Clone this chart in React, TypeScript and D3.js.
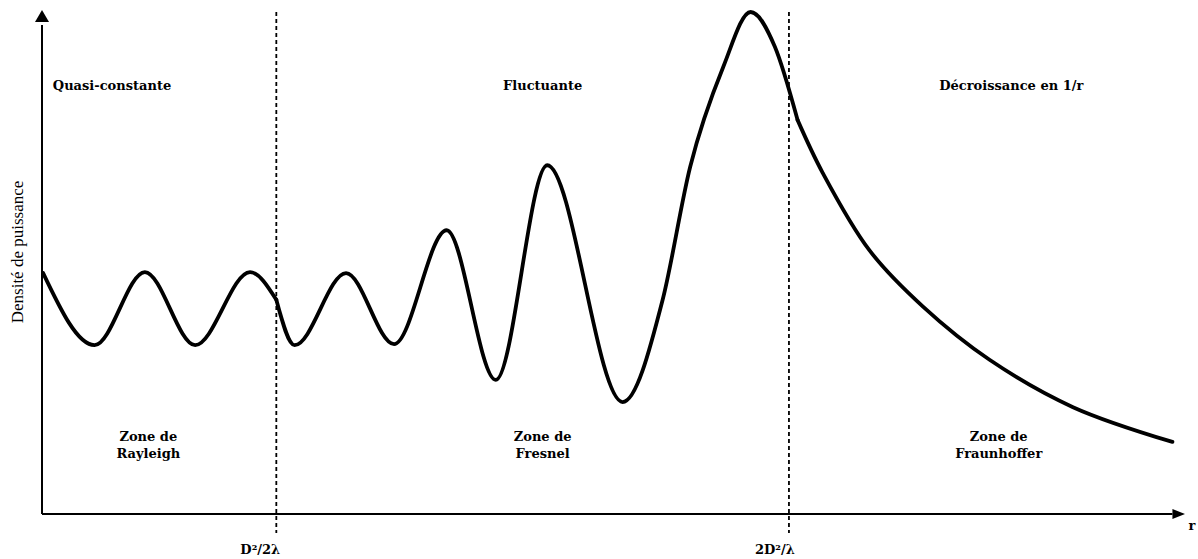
import React from "react";
import * as d3 from "d3";

// r (arbitrary units) and power density (arbitrary units)
const rayleighR = [0.1, 4.6, 9.0, 13.4, 18.2, 20.5];
const rayleighP = [47.8, 33.5, 48.0, 33.5, 48.0, 42.5];

const fresnelR = [20.5, 22.1, 26.6, 30.8, 35.4, 39.7, 44.2, 50.8, 54.3, 56.7, 59.6, 62.0, 64.1, 66.1];
const fresnelP = [42.5, 33.5, 47.8, 33.7, 56.3, 26.6, 69.2, 22.2, 42.5, 68.8, 88.7, 99.6, 92.8, 78.2];

const fraunR = [66.1, 68.3, 72.4, 77.1, 82.9, 90.2, 98.9];
const fraunP = [78.2, 67.7, 52.3, 41.1, 30.6, 21.2, 14.3];

const boundaries = [20.5, 65.35];
const boundaryLabels = ["D²/2λ", "2D²/λ"];

const zoneCenters = [9.3, 43.8, 83.7];
const zoneNames = [["Zone de", "Rayleigh"], ["Zone de", "Fresnel"], ["Zone de", "Fraunhoffer"]];
const regimeLabels = ["Quasi-constante", "Fluctuante", "Décroissance en 1/r"];
const regimeX = [0.95, 43.8, 84.8];
const regimeAnchor = ["start", "middle", "middle"];

export default function App() {
  const W = 1198, H = 559;
  const x = d3.scaleLinear().domain([0, 100]).range([42, 1185]);
  const y = d3.scaleLinear().domain([0, 100]).range([514, 10]);
  const mkLine = (c: d3.CurveFactory) => d3.line<[number, number]>().x(d => x(d[0])).y(d => y(d[1])).curve(c);
  const mono = mkLine(d3.curveMonotoneX);
  const smooth = mkLine(d3.curveCatmullRom.alpha(0.5));
  const pts = (rs: number[], ps: number[]) => rs.map((r, i) => [r, ps[i]] as [number, number]);
  const boldFont = "'DejaVu Serif', serif";
  const fs = 13;
  const x0 = x(0), y0 = y(0);
  const paths = [
    mono(pts(rayleighR, rayleighP)) || "",
    mono(pts(fresnelR, fresnelP)) || "",
    smooth(pts(fraunR, fraunP)) || "",
  ];
  return (
    <svg width={W} height={H} style={{ position: "absolute", left: 0, top: 0, background: "#fff" }}>
      {/* axes */}
      <line x1={x0} y1={y0} x2={x0} y2={y(97)} stroke="#000" strokeWidth={2} />
      <path d={`M${x0 - 7},${y(97.6)} L${x0},${y(100)} L${x0 + 7},${y(97.6)} Z`} fill="#000" />
      <line x1={x0} y1={y0} x2={x(98.9)} y2={y0} stroke="#000" strokeWidth={2} />
      <path d={`M${x(98.9)},${y0 - 5} L${x(100)},${y0} L${x(98.9)},${y0 + 5} Z`} fill="#000" />
      <text x={1192} y={530} fontFamily={boldFont} fontWeight="bold" fontSize={fs} textAnchor="middle">r</text>
      <text transform={`translate(23,252) rotate(-90)`} fontFamily="'Liberation Serif', serif" fontSize={17} textAnchor="middle">Densité de puissance</text>

      {/* boundaries */}
      {boundaries.map((b, i) => (
        <g key={i}>
          <line x1={x(b)} x2={x(b)} y1={y(99.6)} y2={533} stroke="#000" strokeWidth={1.8} strokeDasharray="4,3" />
          <text x={x(b) - (i === 0 ? 16 : 14)} y={554} fontFamily={boldFont} fontWeight="bold" fontSize={fs} textAnchor="middle">{boundaryLabels[i]}</text>
        </g>
      ))}

      {/* curve */}
      {paths.map((d, i) => (
        <path key={i} d={d} fill="none" stroke="#000" strokeWidth={3.8} strokeLinejoin="round" strokeLinecap="round" />
      ))}

      {/* regime labels */}
      {regimeLabels.map((t, i) => (
        <text key={i} x={x(regimeX[i])} y={90} fontFamily={boldFont} fontWeight="bold" fontSize={fs} textAnchor={regimeAnchor[i] as any}>{t}</text>
      ))}
      {zoneNames.map((ls, i) => (
        <text key={i} fontFamily={boldFont} fontWeight="bold" fontSize={fs} textAnchor="middle">
          {ls.map((l, j) => (
            <tspan key={j} x={x(zoneCenters[i])} y={441 + j * 17}>{l}</tspan>
          ))}
        </text>
      ))}
    </svg>
  );
}
